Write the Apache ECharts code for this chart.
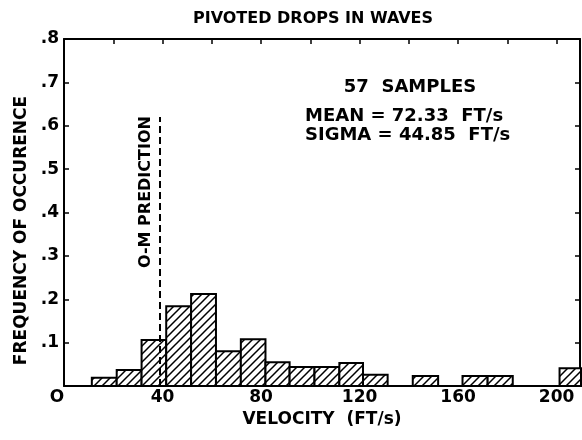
<!DOCTYPE html>
<html><head><meta charset="utf-8">
<script src="https://cdn.jsdelivr.net/npm/echarts@6/dist/echarts.min.js"></script>
<style>html,body{margin:0;padding:0;background:#fff}#c{width:582px;height:440px}</style>
</head><body><div id="c"></div>
<script>
// ---- data ----
const binStart  = [11.3, 21.4, 31.5, 41.5, 51.6, 61.7, 71.8, 81.8, 91.6, 101.7, 111.8, 121.4, 141.6, 161.8, 172.0, 201.2];
const binEnd    = [21.4, 31.5, 41.5, 51.6, 61.7, 71.8, 81.8, 91.6, 101.7, 111.8, 121.4, 131.4, 151.9, 172.0, 182.2, 211.0];
const frequency = [0.019, 0.037, 0.106, 0.184, 0.212, 0.080, 0.108, 0.055, 0.044, 0.044, 0.053, 0.026, 0.023, 0.023, 0.023, 0.041];
const xTickLabels = [0, 40, 80, 120, 160, 200];
const yTickLabels = [0.1, 0.2, 0.3, 0.4, 0.5, 0.6, 0.7, 0.8];
const omPrediction = 38.8;
const omPredictionTop = 0.62;
const titleText = 'PIVOTED DROPS IN WAVES';
const notes = ['57  SAMPLES', 'MEAN = 72.33  FT/s', 'SIGMA = 44.85  FT/s'];

const FONT = 'DejaVu Sans';
const chart = echarts.init(document.getElementById('c'), null, {renderer: 'canvas'});

// hatch pattern "/"
const pc = document.createElement('canvas');
pc.width = 8; pc.height = 8;
const g = pc.getContext('2d');
g.fillStyle = '#fff'; g.fillRect(0, 0, 8, 8);
g.strokeStyle = '#000'; g.lineWidth = 1.5;
g.beginPath();
g.moveTo(-1, 9); g.lineTo(9, -1);
g.moveTo(-1, 1); g.lineTo(1, -1);
g.moveTo(7, 9); g.lineTo(9, 7);
g.stroke();
const hatch = {image: pc, repeat: 'repeat'};

const data = binStart.map((s, i) => [s, binEnd[i], frequency[i]]);

const boldText = {color: '#000', fontFamily: FONT, fontWeight: 'bold'};

const option = {
  animation: false,
  backgroundColor: '#fff',
  grid: {left: 64, right: 2, top: 39, bottom: 54},
  xAxis: [{
    type: 'value', min: 0, max: 209.5, interval: 20, position: 'bottom',
    axisLine: {show: true, onZero: false, lineStyle: {color: '#000', width: 2}},
    axisTick: {show: false}, splitLine: {show: false},
    axisLabel: Object.assign({
      fontSize: 17, margin: 3, showMaxLabel: false,
      formatter: v => xTickLabels.indexOf(v) < 0 ? '' : (v === 0 ? '{z|O}' : String(v)),
      rich: {z: Object.assign({fontSize: 17, padding: [0, 14, 0, 0]}, boldText)}
    }, boldText),
    name: 'VELOCITY  (FT/s)', nameLocation: 'middle', nameGap: 22,
    nameTextStyle: Object.assign({fontSize: 17}, boldText)
  }, {
    type: 'value', min: 0, max: 209.5, interval: 20, position: 'top',
    axisLine: {show: true, onZero: false, lineStyle: {color: '#000', width: 2}},
    axisTick: {show: true, inside: true, length: 5, lineStyle: {color: '#000', width: 1.5}},
    axisLabel: {show: false}, splitLine: {show: false}
  }],
  yAxis: [{
    type: 'value', min: 0, max: 0.8, interval: 0.1, position: 'left',
    axisLine: {show: true, onZero: false, lineStyle: {color: '#000', width: 2}},
    axisTick: {show: true, inside: true, length: 5, lineStyle: {color: '#000', width: 1.5}},
    splitLine: {show: false},
    axisLabel: Object.assign({
      fontSize: 17, margin: 5,
      formatter: v => {
        const r = Math.round(v * 10) / 10;
        return yTickLabels.indexOf(r) < 0 ? '' : '.' + Math.round(r * 10);
      }
    }, boldText),
    name: 'FREQUENCY OF OCCURENCE', nameLocation: 'middle', nameGap: 33, nameRotate: 90,
    nameTextStyle: Object.assign({fontSize: 17, padding: [0, 36, 0, 0]}, boldText)
  }, {
    type: 'value', min: 0, max: 0.8, interval: 0.1, position: 'right',
    axisLine: {show: true, onZero: false, lineStyle: {color: '#000', width: 2}},
    axisTick: {show: true, inside: true, length: 5, lineStyle: {color: '#000', width: 1.5}},
    axisLabel: {show: false}, splitLine: {show: false}
  }],
  series: [{
    type: 'custom',
    xAxisIndex: 0, yAxisIndex: 0,
    data: data,
    renderItem: function (params, api) {
      const p0 = api.coord([api.value(0), 0]);
      const p1 = api.coord([api.value(1), api.value(2)]);
      const rect = echarts.graphic.clipRectByRect(
        {x: p0[0], y: p1[1], width: p1[0] - p0[0], height: p0[1] - p1[1]},
        {x: params.coordSys.x, y: params.coordSys.y, width: params.coordSys.width + 1, height: params.coordSys.height}
      );
      if (!rect) return;
      return {type: 'rect', shape: rect, style: {fill: hatch, stroke: '#000', lineWidth: 2}};
    },
    markLine: {
      silent: true, symbol: 'none',
      lineStyle: {color: '#000', type: [7, 4], width: 2},
      label: {show: false},
      data: [[{coord: [omPrediction, 0]}, {coord: [omPrediction, omPredictionTop]}]]
    }
  }],
  graphic: [
    {type: 'text', x: 313, y: 19, style: Object.assign({text: titleText, fontSize: 16, align: 'center', verticalAlign: 'middle'}, {fill: '#000', fontFamily: FONT, fontWeight: 'bold'})},
    {type: 'text', x: 410, y: 87, style: {text: notes[0], fontSize: 18, align: 'center', verticalAlign: 'middle', fill: '#000', fontFamily: FONT, fontWeight: 'bold'}},
    {type: 'text', x: 305, y: 116, style: {text: notes[1], fontSize: 18, align: 'left', verticalAlign: 'middle', fill: '#000', fontFamily: FONT, fontWeight: 'bold'}},
    {type: 'text', x: 305, y: 135, style: {text: notes[2], fontSize: 18, align: 'left', verticalAlign: 'middle', fill: '#000', fontFamily: FONT, fontWeight: 'bold'}},
    {type: 'text', x: 146, y: 192, rotation: Math.PI / 2, style: {text: 'O-M PREDICTION', fontSize: 16, align: 'center', verticalAlign: 'middle', fill: '#000', fontFamily: FONT, fontWeight: 'bold'}}
  ]
};
chart.setOption(option);
</script>
</body></html>
